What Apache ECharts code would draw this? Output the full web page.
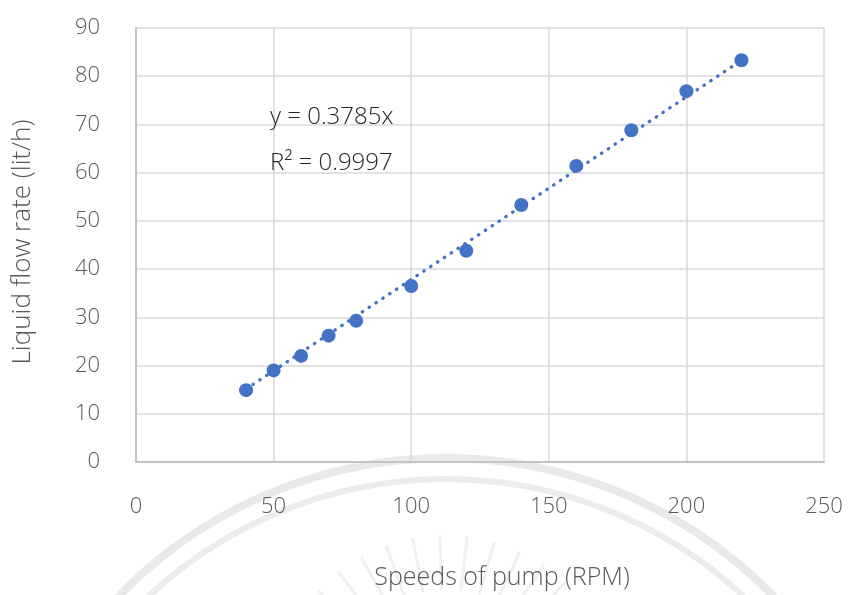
<!DOCTYPE html>
<html>
<head>
<meta charset="utf-8">
<script src="https://cdn.jsdelivr.net/npm/echarts@6/dist/echarts.min.js"></script>
<style>
  html, body { margin: 0; padding: 0; background: #ffffff; }
  #chart { width: 848px; height: 595px; }
</style>
</head>
<body>
<div id="chart"></div>
<script>
// Pump speed (RPM) versus measured liquid flow rate (lit/h)
const pumpSpeeds = [40, 50, 60, 70, 80, 100, 120, 140, 160, 180, 200, 220];
const flowRates = [14.9, 19.0, 22.0, 26.2, 29.3, 36.5, 43.8, 53.3, 61.4, 68.8, 76.9, 83.3];

// Linear fit through the origin
const fitSlope = 0.3785;
const fitR2 = '0.9997';
const fitRange = [40, 220];

const xTicks = { min: 0, max: 250, interval: 50 };
const yTicks = { min: 0, max: 90, interval: 10 };

const points = pumpSpeeds.map((x, i) => [x, flowRates[i]]);
const trend = fitRange.map(x => [x, fitSlope * x]);

const FONT = '"Open Sans", "Noto Sans", sans-serif';
const BLUE = '#4472C4';

// faint seal in the background
const seal = [];
seal.push({ type: 'circle', z: -10, silent: true,
  shape: { cx: 446, cy: 915, r: 457 },
  style: { fill: null, stroke: '#e9e9e9', lineWidth: 8 } });
seal.push({ type: 'circle', z: -10, silent: true,
  shape: { cx: 446, cy: 915, r: 436 },
  style: { fill: null, stroke: '#ececec', lineWidth: 6 } });
for (let a = 205; a <= 335; a += 9) {
  const t = a * Math.PI / 180;
  seal.push({ type: 'line', z: -10, silent: true,
    shape: { x1: 446 + 120 * Math.cos(t), y1: 710 + 120 * Math.sin(t),
             x2: 446 + 175 * Math.cos(t), y2: 710 + 175 * Math.sin(t) },
    style: { stroke: '#f0f0f0', lineWidth: 3 } });
}

const chart = echarts.init(document.getElementById('chart'), null, { renderer: 'canvas' });
chart.setOption({
  backgroundColor: '#ffffff',
  animation: false,
  grid: { left: 136, right: 24, top: 28, bottom: 132.5, containLabel: false },
  xAxis: {
    type: 'value', min: xTicks.min, max: xTicks.max, interval: xTicks.interval,
    name: 'Speeds of pump (RPM)', nameLocation: 'middle', nameGap: 103,
    nameTextStyle: { color: '#595959', fontSize: 25, fontFamily: FONT, fontWeight: 300, padding: [0, 0, 0, 44] },
    axisLine: { show: true, lineStyle: { color: '#c4c4c4', width: 2 } },
    axisTick: { show: false },
    axisLabel: { color: '#595959', fontSize: 22, fontFamily: FONT, fontWeight: 300, margin: 34 },
    splitLine: { show: true, lineStyle: { color: '#d9d9d9', width: 1.5 } }
  },
  yAxis: {
    type: 'value', min: yTicks.min, max: yTicks.max, interval: yTicks.interval,
    name: 'Liquid flow rate (lit/h)', nameLocation: 'middle', nameGap: 100,
    nameTextStyle: { color: '#595959', fontSize: 26, fontFamily: FONT, fontWeight: 300, padding: [0, 0, 0, 6] },
    axisLine: { show: true, lineStyle: { color: '#c4c4c4', width: 2 } },
    axisTick: { show: false },
    axisLabel: { color: '#595959', fontSize: 22, fontFamily: FONT, fontWeight: 300, margin: 36 },
    splitLine: { show: true, lineStyle: { color: '#d9d9d9', width: 1.5 } }
  },
  graphic: { elements: seal.concat([
    { type: 'text', left: 270, top: 105, z: 100,
      style: { text: 'y = ' + fitSlope + 'x', fill: '#262626', fontSize: 24, fontFamily: FONT, fontWeight: 300 } },
    { type: 'text', left: 270, top: 151, z: 100,
      style: { text: 'R² = ' + fitR2, fill: '#262626', fontSize: 24, fontFamily: FONT, fontWeight: 300 } }
  ]) },
  series: [
    {
      type: 'line', data: trend, showSymbol: false, silent: true, z: 2,
      lineStyle: { color: BLUE, width: 3.3, type: [0.5, 7.7], cap: 'round' }
    },
    {
      type: 'scatter', data: points, symbol: 'circle', symbolSize: 14, z: 3,
      itemStyle: { color: BLUE, opacity: 1 }
    }
  ]
});
</script>
</body>
</html>
